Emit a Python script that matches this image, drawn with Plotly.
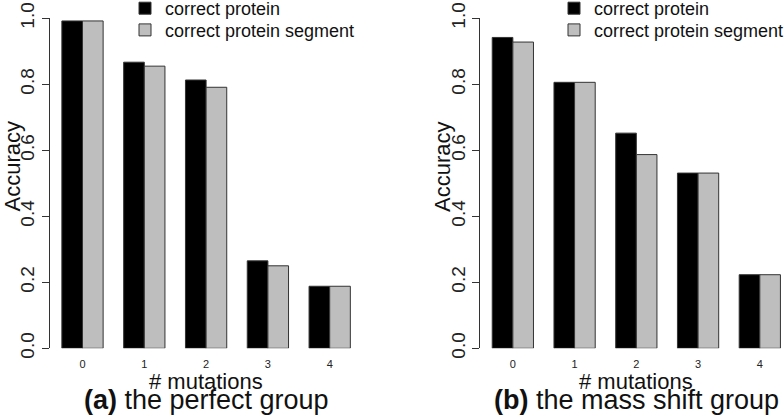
import plotly.graph_objects as go

categories = ["0", "1", "2", "3", "4"]
series_names = ["correct protein", "correct protein segment"]
perfect_protein = [0.992, 0.867, 0.813, 0.265, 0.188]
perfect_segment = [0.992, 0.855, 0.791, 0.250, 0.188]
massshift_protein = [0.942, 0.806, 0.652, 0.531, 0.223]
massshift_segment = [0.928, 0.806, 0.587, 0.531, 0.223]
y_ticks = [0.0, 0.2, 0.4, 0.6, 0.8, 1.0]
panel_titles = ["<b>(a)</b> the perfect group", "<b>(b)</b> the mass shift group"]

W, H = 784, 417
FONT = "Liberation Sans, Arial, Helvetica, sans-serif"
colors = ["#000000", "#bebebe"]
xs = list(range(len(categories)))

# one legend per entry so rows can sit as tightly as in the reference
legend_ids = [["legend", "legend2"], ["legend3", "legend4"]]

fig = go.Figure()
panels = [(perfect_protein, perfect_segment, "x", "y"),
          (massshift_protein, massshift_segment, "x2", "y2")]
for p, (vals_a, vals_b, xa, ya) in enumerate(panels):
    for s, (name, vals, col) in enumerate(zip(series_names, [vals_a, vals_b], colors)):
        fig.add_trace(go.Bar(
            x=xs, y=vals, name=name, xaxis=xa, yaxis=ya, legend=legend_ids[p][s],
            marker=dict(color=col, line=dict(color="#333333", width=1)),
        ))

ydom = [(H - 348.3) / H, (H - 18.3) / H]
xdom1 = [50 / W, 362 / W]
xdom2 = [480.3 / W, 1.0]
xr1 = [(50 - 82.5) / 61.8, (362 - 82.5) / 61.8]
xr2 = [(480.3 - 512.85) / 61.74, (784 - 512.85) / 61.74]

xaxis_common = dict(tickvals=xs, ticktext=categories, showline=False, ticks="",
                    showgrid=False, zeroline=False, ticklabelstandoff=8,
                    tickfont=dict(size=11, color="#222222", family=FONT))
yaxis_common = dict(range=[0, 1], tickvals=y_ticks, ticktext=[f"{v:.1f}" for v in y_ticks],
                    showline=True, linecolor="#333333", linewidth=1,
                    ticks="outside", ticklen=7, tickcolor="#333333", tickwidth=1,
                    tickangle=-90, showgrid=False, zeroline=False,
                    tickfont=dict(size=19, color="#222222", family=FONT))

def legend_at(xpx, row_center_px):
    top_px = row_center_px - 17
    return dict(x=xpx / W, y=1 - top_px / H, xanchor="left", yanchor="top",
                font=dict(size=18, family=FONT, color="#111111"),
                bgcolor="rgba(0,0,0,0)")

fig.update_layout(
    width=W, height=H,
    margin=dict(l=0, r=0, t=0, b=0, autoexpand=False),
    plot_bgcolor="white", paper_bgcolor="white",
    barmode="group", bargap=0.332, bargroupgap=0,
    font=dict(family=FONT, color="#111111"),
    xaxis=dict(domain=xdom1, range=xr1, anchor="y", **xaxis_common),
    yaxis=dict(domain=ydom, anchor="x", **yaxis_common),
    xaxis2=dict(domain=xdom2, range=xr2, anchor="y2", **xaxis_common),
    yaxis2=dict(domain=ydom, anchor="x2", **yaxis_common),
    legend=legend_at(125, 7),
    legend2=legend_at(125, 28.7),
    legend3=legend_at(554, 7),
    legend4=legend_at(554, 28.7),
    showlegend=True,
)

ann = []
for cx, ylx, title in [(206 / W, 12.5 / W, panel_titles[0]), (636 / W, 443 / W, panel_titles[1])]:
    ann.append(dict(text="# mutations", x=cx, y=(H - 381.5) / H, xref="paper", yref="paper",
                    showarrow=False, xanchor="center", yanchor="middle", borderpad=0,
                    font=dict(size=22, family=FONT, color="#111111")))
    ann.append(dict(text=title, x=cx, y=(H - 399.5) / H, xref="paper", yref="paper",
                    showarrow=False, xanchor="center", yanchor="middle", borderpad=0,
                    font=dict(size=27, family=FONT, color="#111111")))
    ann.append(dict(text="Accuracy", x=ylx, y=(H - 167) / H, xref="paper", yref="paper",
                    showarrow=False, xanchor="center", yanchor="middle", textangle=-90,
                    borderpad=0, font=dict(size=22, family=FONT, color="#111111")))
fig.update_layout(annotations=ann)

fig.write_html("out.html", config={"displayModeBar": False},
               post_script="document.body.style.margin='0px';document.body.style.overflow='hidden';")
